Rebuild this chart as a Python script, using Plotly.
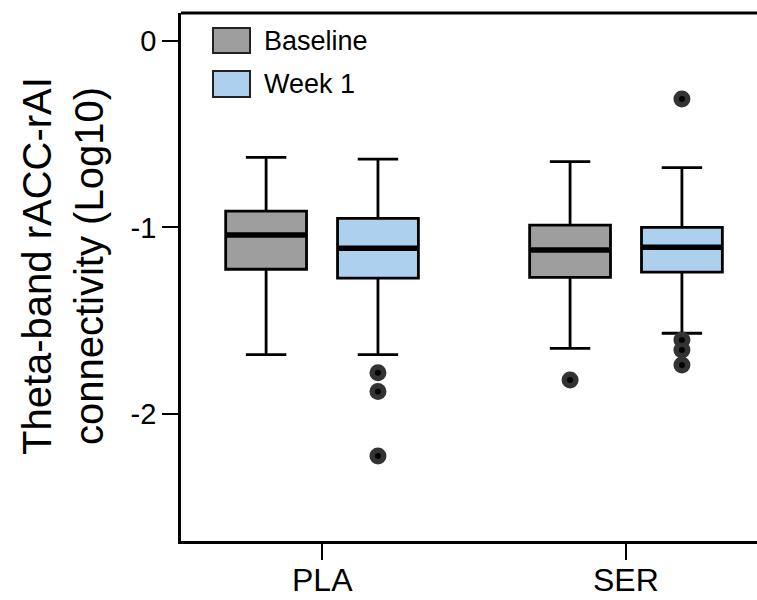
import plotly.graph_objects as go

# ---- data ----
categories = ["PLA", "SER"]
groups = ["Baseline", "Week 1"]

baseline_q1 = [-1.224, -1.267]
baseline_median = [-1.040, -1.121]
baseline_q3 = [-0.912, -0.987]
baseline_lower = [-1.682, -1.648]
baseline_upper = [-0.624, -0.647]
baseline_outliers = [[], [-1.818]]

week1_q1 = [-1.272, -1.239]
week1_median = [-1.112, -1.106]
week1_q3 = [-0.951, -0.999]
week1_lower = [-1.682, -1.567]
week1_upper = [-0.633, -0.679]
week1_outliers = [[-1.779, -1.880, -2.225], [-0.311, -1.603, -1.657, -1.737]]

y_ticks = [0, -1, -2]
y_title_lines = ["Theta-band rACC-rAI", "connectivity (Log10)"]

# ---- style ----
W, H = 757, 600
ML, MR, MT, MB = 181, 0, 13, 59
PW, PH = W - ML - MR, H - MT - MB
colors = ["#9e9e9e", "#acd0ee"]
offsets = [-0.184, 0.184]
box_w = 0.266
FONT = "Liberation Sans, Arial, sans-serif"

series = [
    (baseline_q1, baseline_median, baseline_q3, baseline_lower, baseline_upper, baseline_outliers),
    (week1_q1, week1_median, week1_q3, week1_lower, week1_upper, week1_outliers),
]

fig = go.Figure()
for gi, (q1, med, q3, lo, up, outs) in enumerate(series):
    xs = [i + offsets[gi] for i in range(len(categories))]
    fig.add_trace(go.Box(
        x=xs, q1=q1, median=med, q3=q3, lowerfence=lo, upperfence=up,
        width=box_w, whiskerwidth=0.5, fillcolor=colors[gi],
        line=dict(color="black", width=2.8), name=groups[gi],
        showlegend=False, hoverinfo="skip", boxpoints=False,
    ))
    # thick median lines
    mx, my = [], []
    for x, m in zip(xs, med):
        mx += [x - box_w / 2, x + box_w / 2, None]
        my += [m, m, None]
    fig.add_trace(go.Scatter(x=mx, y=my, mode="lines",
                             line=dict(color="black", width=5.5),
                             showlegend=False, hoverinfo="skip"))
    # outliers
    ox, oy = [], []
    for x, o in zip(xs, outs):
        ox += [x] * len(o)
        oy += o
    fig.add_trace(go.Scatter(x=ox, y=oy, mode="markers",
                             marker=dict(size=17, color="#333333"),
                             showlegend=False, hoverinfo="skip"))
    fig.add_trace(go.Scatter(x=ox, y=oy, mode="markers",
                             marker=dict(size=6, color="black"),
                             showlegend=False, hoverinfo="skip"))

# ---- custom legend ----
def px2x(px):
    return (px - ML) / PW

def py2y(py):
    return (H - MB - py) / PH

shapes = []
annotations = []
legend_rows = [(28, 53), (71, 97)]
for gi, (y0, y1) in enumerate(legend_rows):
    shapes.append(dict(type="rect", xref="paper", yref="paper",
                       x0=px2x(213), x1=px2x(250), y0=py2y(y1), y1=py2y(y0),
                       fillcolor=colors[gi], line=dict(color="#222222", width=2)))
    annotations.append(dict(xref="paper", yref="paper", x=px2x(262), y=py2y((y0 + y1) / 2),
                            text=groups[gi], showarrow=False, xanchor="left", yanchor="middle",
                            font=dict(size=27, color="black", family=FONT)))
# y-axis title as two rotated lines
for xpx, line in zip([37, 89], y_title_lines):
    annotations.append(dict(xref="paper", yref="paper", x=px2x(xpx), y=py2y(266),
                            text=line, showarrow=False, textangle=-90,
                            xanchor="center", yanchor="middle",
                            font=dict(size=40, color="black", family=FONT)))
# x category labels placed under their ticks
for i, cat in enumerate(categories):
    annotations.append(dict(xref="x", yref="paper", x=i, y=py2y(580),
                            text=cat, showarrow=False, xanchor="center", yanchor="middle",
                            font=dict(size=32, color="black", family=FONT)))
# top border
shapes.append(dict(type="line", xref="paper", yref="paper", x0=0, x1=1, y0=1, y1=1,
                   line=dict(color="black", width=2.8)))

fig.update_layout(
    width=W, height=H,
    margin=dict(l=ML, r=MR, t=MT, b=MB),
    plot_bgcolor="white", paper_bgcolor="white",
    font=dict(family=FONT, color="black"),
    shapes=shapes, annotations=annotations,
    showlegend=False,
    xaxis=dict(range=[-0.464, 1.431], tickvals=list(range(len(categories))),
               showticklabels=False,
               showgrid=False, zeroline=False, showline=True, linecolor="black", linewidth=2.8,
               ticks="outside", ticklen=16, tickwidth=2.2, tickcolor="black", automargin=False),
    yaxis=dict(range=[-2.681, 0.150], tickvals=y_ticks, ticktext=[str(v) for v in y_ticks],
               showgrid=False, zeroline=False, showline=True, linecolor="black", linewidth=2.8,
               ticks="outside", ticklen=16, tickwidth=2.2, tickcolor="black",
               tickfont=dict(size=29, family=FONT), automargin=False),
)

fig.write_html("out.html")
